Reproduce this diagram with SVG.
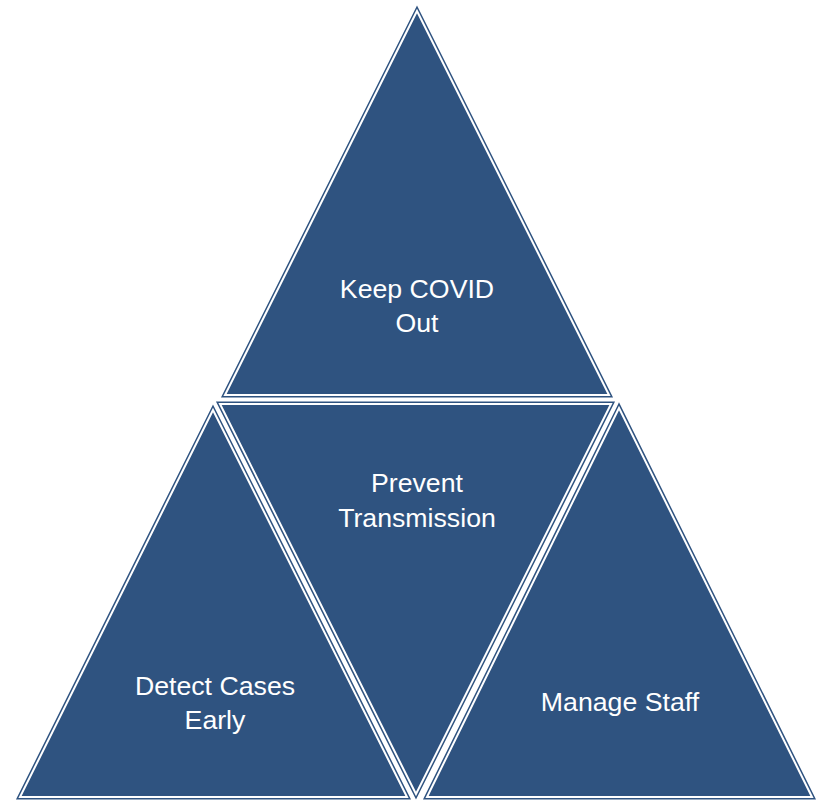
<svg xmlns="http://www.w3.org/2000/svg" width="823" height="801" viewBox="0 0 823 801">
<style>
.tri{fill:#2F5380;stroke:#2F5380;stroke-width:5;stroke-linejoin:miter}
.in{fill:none;stroke:#FFFFFF;stroke-width:2;stroke-linejoin:miter}
.lbl{font-family:"Liberation Sans",Arial,sans-serif;font-size:26.7px;fill:#FFFFFF;text-anchor:middle}
</style>
<rect width="823" height="801" fill="#FFFFFF"/>
<g id="keep-covid-out">
<polygon class="tri" points="417,11 225,395 609,395"/>
<polygon class="in" points="417,11 225,395 609,395"/>
<text class="lbl" x="417" y="298">Keep COVID</text>
<text class="lbl" x="417" y="332">Out</text>
</g>
<g id="prevent-transmission">
<polygon class="tri" points="220,404 611,404 416,794"/>
<polygon class="in" points="220,404 611,404 416,794"/>
<text class="lbl" x="417" y="492">Prevent</text>
<text class="lbl" x="417" y="527">Transmission</text>
</g>
<g id="detect-cases-early">
<polygon class="tri" points="213,410 20,797 407,797"/>
<polygon class="in" points="213,410 20,797 407,797"/>
<text class="lbl" x="215" y="695">Detect Cases</text>
<text class="lbl" x="215" y="729">Early</text>
</g>
<g id="manage-staff">
<polygon class="tri" points="619,408 427,797 812,797"/>
<polygon class="in" points="619,408 427,797 812,797"/>
<text class="lbl" x="620" y="711">Manage Staff</text>
</g>
<g id="connectors"></g>
</svg>
